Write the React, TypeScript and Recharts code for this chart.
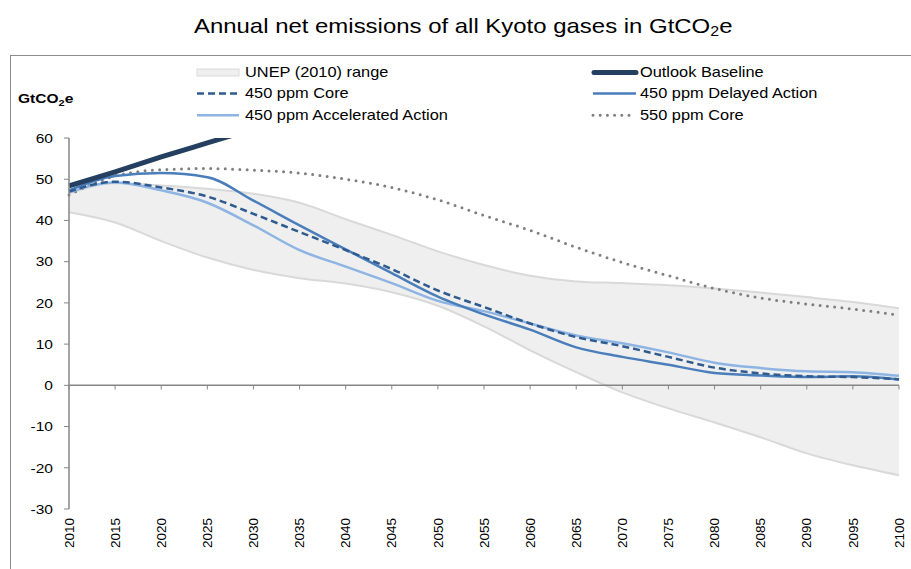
import React from "react";
import { ComposedChart, Area, Line, XAxis, YAxis, ReferenceLine } from "recharts";

const years = [
  "2010", "2015", "2020", "2025", "2030", "2035", "2040", "2045", "2050", "2055",
  "2060", "2065", "2070", "2075", "2080", "2085", "2090", "2095", "2100",
];

// UNEP (2010) range, lower and upper bounds
const unepLow = [42, 39.5, 35, 31, 28, 26, 24.7, 22.6, 19.3, 14.3, 8.5, 3.2, -1.7, -5.6, -9, -12.6, -16.5, -19.4, -21.8];
const unepHigh = [46.5, 49, 48.5, 47.7, 46.5, 44.3, 40.3, 36.5, 32.5, 29.2, 26.6, 25.2, 24.8, 24.3, 23.5, 22.5, 21.4, 20.2, 18.7];

const outlookBaseline = [48.4, 51.8, 55.4, 58.8, 62.2, null, null, null, null, null, null, null, null, null, null, null, null, null, null];
const core450 = [47, 49.4, 48, 45.8, 41.6, 37.2, 32.8, 28.2, 23, 19, 15, 11.7, 9.5, 6.9, 4.3, 2.9, 2.2, 2, 1.5];
const delayed450 = [47.3, 50.8, 51.5, 50.5, 44.8, 38.8, 33, 27.2, 21.5, 17.2, 13.5, 9.2, 6.9, 5, 3, 2.4, 2, 2.2, 1.4];
const accelerated450 = [46.8, 49.2, 47.3, 44.3, 38.8, 32.8, 28.8, 24.8, 20.5, 18, 15, 12.1, 10.2, 8, 5.5, 4.2, 3.4, 3.2, 2.3];
const core550 = [46.2, 50.8, 52.3, 52.6, 52.2, 51.5, 50, 48, 45, 41.2, 37.6, 33.5, 29.8, 26.6, 23.5, 21.2, 19.7, 18.5, 17];

const yTicks = [-30, -20, -10, 0, 10, 20, 30, 40, 50, 60];

const COLORS = {
  baseline: "#243f60",
  core450: "#2f5b8f",
  delayed: "#4a7ebb",
  accelerated: "#8db4e3",
  core550: "#7f7f7f",
  rangeFill: "#efefef",
  rangeStroke: "#d9d9d9",
  axis: "#868686",
};

const FONT = "Arial, 'Liberation Sans', sans-serif";
// the original export is a little wider than tall, so text is stretched sideways
const STRETCH = 1.15;

const data = years.map((year, i) => ({
  year,
  unep: [unepLow[i], unepHigh[i]],
  baseline: outlookBaseline[i],
  core450: core450[i],
  delayed: delayed450[i],
  accelerated: accelerated450[i],
  core550: core550[i],
}));

function YearTick({ x, y, payload }: any) {
  const ty = y + 9;
  return (
    <text
      x={x}
      y={ty}
      transform={`rotate(-90 ${x} ${ty})`}
      textAnchor="end"
      dy="0.35em"
      fontSize={13.5}
      fontFamily={FONT}
      fill="#000"
    >
      {payload.value}
    </text>
  );
}

function ValueTick({ x, y, payload }: any) {
  return (
    <text
      transform={`translate(${x} ${y}) scale(${STRETCH} 1)`}
      textAnchor="end"
      dy="0.35em"
      fontSize={13.5}
      fontFamily={FONT}
      fill="#000"
    >
      {payload.value}
    </text>
  );
}

function LegendRow({ x, y, label, children }: { x: number; y: number; label: string; children: React.ReactNode }) {
  return (
    <g>
      {children}
      <text
        transform={`translate(${x} ${y}) scale(${STRETCH + 0.02} 1)`}
        dy="0.35em"
        fontSize={14}
        fontFamily={FONT}
        fill="#000"
      >
        {label}
      </text>
    </g>
  );
}

function ChartLegend() {
  const rows = [72.5, 93.5, 115.3];
  return (
    <svg width={911} height={130} style={{ position: "absolute", left: 0, top: 0 }}>
      <LegendRow x={245} y={rows[0]} label="UNEP (2010)  range">
        <rect x={197} y={rows[0] - 3.5} width={42} height={7} fill={COLORS.rangeFill} stroke={COLORS.rangeStroke} strokeWidth={1} />
      </LegendRow>
      <LegendRow x={245} y={rows[1]} label="450 ppm Core">
        <line x1={197} x2={239} y1={rows[1]} y2={rows[1]} stroke={COLORS.core450} strokeWidth={2.5} strokeDasharray="7 4" />
      </LegendRow>
      <LegendRow x={245} y={rows[2]} label="450 ppm Accelerated Action">
        <line x1={197} x2={239} y1={rows[2]} y2={rows[2]} stroke={COLORS.accelerated} strokeWidth={2.5} />
      </LegendRow>
      <LegendRow x={640} y={rows[0]} label="Outlook Baseline">
        <line x1={594} x2={636} y1={rows[0]} y2={rows[0]} stroke={COLORS.baseline} strokeWidth={5} strokeLinecap="round" />
      </LegendRow>
      <LegendRow x={640} y={rows[1]} label="450 ppm Delayed Action">
        <line x1={593} x2={636} y1={rows[1]} y2={rows[1]} stroke={COLORS.delayed} strokeWidth={2.5} />
      </LegendRow>
      <LegendRow x={640} y={rows[2]} label="550 ppm Core">
        <line x1={593} x2={633} y1={rows[2]} y2={rows[2]} stroke={COLORS.core550} strokeWidth={3} strokeDasharray="0 7.2" strokeLinecap="round" />
      </LegendRow>
    </svg>
  );
}

export default function App() {
  return (
    <div
      style={{
        position: "absolute",
        left: 0,
        top: 0,
        width: 911,
        height: 569,
        overflow: "hidden",
        background: "#fff",
        fontFamily: FONT,
      }}
    >
      <div style={{ position: "absolute", left: 10, top: 55, right: -10, bottom: -10, border: "1.5px solid #8c8c8c" }} />
      <div style={{ position: "absolute", left: 0, top: 14, width: 926, textAlign: "center", fontSize: 21, lineHeight: "24px" }}>
        <span style={{ display: "inline-block", transform: `scaleX(${STRETCH - 0.01})` }}>
          Annual net emissions of all Kyoto gases in GtCO
          <span style={{ fontSize: 14, position: "relative", top: 3 }}>2</span>e
        </span>
      </div>
      <div
        style={{
          position: "absolute",
          left: 18,
          top: 91,
          fontSize: 13.5,
          fontWeight: "bold",
          lineHeight: "16px",
          transform: `scaleX(${STRETCH})`,
          transformOrigin: "left center",
        }}
      >
        GtCO<span style={{ fontSize: 9.5, position: "relative", top: 3 }}>2</span>e
      </div>
      <ChartLegend />
      <div style={{ position: "absolute", left: 0, top: 0 }}>
        <ComposedChart width={911} height={569} data={data} margin={{ top: 138, right: 12, bottom: 0, left: 29 }}>
          <XAxis
            dataKey="year"
            interval={0}
            height={60}
            axisLine={false}
            tickLine={false}
            tickSize={0}
            tickMargin={0}
            tick={<YearTick />}
          />
          <YAxis
            width={40}
            domain={[-30, 60]}
            ticks={yTicks}
            allowDataOverflow
            interval={0}
            stroke={COLORS.axis}
            axisLine={{ stroke: COLORS.axis, strokeWidth: 1.5 }}
            tickLine={{ stroke: COLORS.axis }}
            tickSize={5}
            tickMargin={11}
            tick={<ValueTick />}
          />
          <Area
            dataKey="unep"
            type="monotone"
            fill={COLORS.rangeFill}
            fillOpacity={1}
            stroke={COLORS.rangeStroke}
            strokeWidth={2}
            isAnimationActive={false}
            activeDot={false}
          />
          <ReferenceLine y={0} stroke={COLORS.axis} strokeWidth={1.5} />
          {years.map((yr) => (
            <ReferenceLine
              key={yr}
              segment={[
                { x: yr, y: 0 },
                { x: yr, y: -1 },
              ]}
              stroke={COLORS.axis}
              strokeWidth={1}
            />
          ))}
          <Line dataKey="core550" type="monotone" stroke={COLORS.core550} strokeWidth={3} strokeDasharray="0 7.3" strokeLinecap="round" dot={false} activeDot={false} isAnimationActive={false} />
          <Line dataKey="accelerated" type="monotone" stroke={COLORS.accelerated} strokeWidth={2.5} dot={false} activeDot={false} isAnimationActive={false} />
          <Line dataKey="delayed" type="monotone" stroke={COLORS.delayed} strokeWidth={2.5} dot={false} activeDot={false} isAnimationActive={false} />
          <Line dataKey="core450" type="monotone" stroke={COLORS.core450} strokeWidth={2.5} strokeDasharray="7 4" dot={false} activeDot={false} isAnimationActive={false} />
          <Line dataKey="baseline" type="monotone" stroke={COLORS.baseline} strokeWidth={5} dot={false} activeDot={false} isAnimationActive={false} />
        </ComposedChart>
      </div>
    </div>
  );
}
